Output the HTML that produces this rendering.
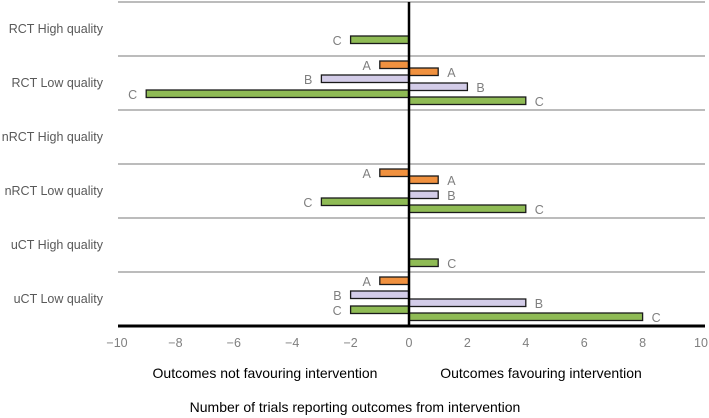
<!DOCTYPE html>
<html><head><meta charset="utf-8"><style>
body{margin:0;background:#fff;}
svg{display:block;font-family:"Liberation Sans",sans-serif;}
</style></head><body>
<svg id="chart" width="709" height="418"></svg>
<script>
const categories=["RCT High quality","RCT Low quality","nRCT High quality","nRCT Low quality","uCT High quality","uCT Low quality"];
const seriesNames=["A","B","C"];
const negA=[0,-1,0,-1,0,-1];
const negB=[0,-3,0,0,0,-2];
const negC=[-2,-9,0,-3,0,-2];
const posA=[0,1,0,1,0,0];
const posB=[0,2,0,1,0,4];
const posC=[0,4,0,4,1,8];
const ticks=[-10,-8,-6,-4,-2,0,2,4,6,8,10];
const colors={A:"#f0913f",B:"#d3cce8",C:"#8fbb55"};
const svg=document.getElementById('chart');
const NS="http://www.w3.org/2000/svg";
const x=v=>409+v*29.2;
const bandTop=i=>2+i*54;
function mk(t,a){const e=document.createElementNS(NS,t);for(const k in a)e.setAttribute(k,a[k]);svg.appendChild(e);return e;}
for(let i=0;i<=5;i++){const l=mk('line',{x1:118,x2:705,y1:bandTop(i),y2:bandTop(i),stroke:'#a6a6a6','stroke-width':1.5});

}
categories.forEach((c,i)=>{const t=mk('text',{x:103,y:bandTop(i)+31,'text-anchor':'end','font-size':12.5,fill:'#595959'});t.textContent=c;

});
const sets=[[negA,'A',5,true],[posA,'A',12,false],[negB,'B',19,true],[posB,'B',27,false],[negC,'C',34,true],[posC,'C',41,false]];
sets.forEach(([arr,s,off,neg])=>{arr.forEach((v,i)=>{if(!v)return;
const y=bandTop(i)+off;const x0=Math.min(x(0),x(v)),w=Math.abs(x(v)-x(0));
const r=mk('rect',{x:x0,y:y,width:w,height:7.5,fill:colors[s],stroke:'#1a1a1a','stroke-width':1.3});


const t=mk('text',{x:neg?x(v)-9:x(v)+9,y:y+9,'text-anchor':neg?'end':'start','font-size':12.5,fill:'#7f7f7f'});t.textContent=s;

});});
const z=mk('line',{x1:x(0),x2:x(0),y1:2,y2:327,stroke:'#000','stroke-width':2.5});


const ax=mk('line',{x1:118,x2:705,y1:326,y2:326,stroke:'#000','stroke-width':3});


ticks.forEach(v=>{const t=mk('text',{x:x(v),y:347,'text-anchor':'middle','font-size':12.5,fill:'#7f7f7f'});t.textContent=v<0?'\u2212'+(-v):v;

});
const a1=mk('text',{x:265,y:378,'text-anchor':'middle','font-size':14,fill:'#000'});a1.textContent='Outcomes not favouring intervention';


const a2=mk('text',{x:541,y:378,'text-anchor':'middle','font-size':14,fill:'#000'});a2.textContent='Outcomes favouring intervention';


const a3=mk('text',{x:355,y:412,'text-anchor':'middle','font-size':14,fill:'#000'});a3.textContent='Number of trials reporting outcomes from intervention';


</script>
</body></html>
